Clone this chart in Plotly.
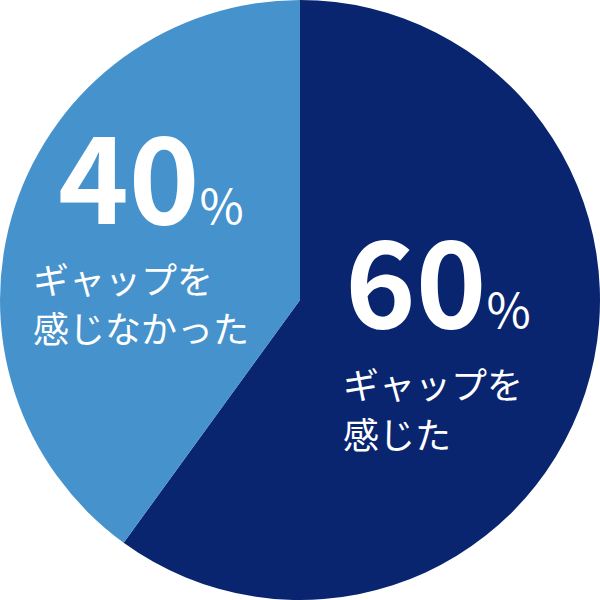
import plotly.graph_objects as go

labels = ["ギャップを感じた", "ギャップを感じなかった"]
values = [60, 40]
colors = ["#0a256f", "#4592cc"]
pct_text = ["60", "40"]
line1 = ["ギャップを", "ギャップを"]
line2 = ["感じた", "感じなかった"]

W = H = 600
fig = go.Figure(go.Pie(
    labels=labels, values=values, sort=False, direction="clockwise", rotation=0,
    marker=dict(colors=colors, line=dict(width=0)),
    textinfo="none", hoverinfo="label+percent", showlegend=False,
    domain=dict(x=[0, 1], y=[0, 1]),
))

FONT = "Noto Sans CJK JP"
# positions in pixels (left x, center y) for each slice's texts
num_pos = [(343, 276), (56, 172)]
l1_pos = [(341, 383), (31, 278)]
l2_pos = [(341, 433), (31, 327)]

anns = []
for i in range(len(values)):
    nx, ny = num_pos[i]
    anns.append(dict(
        x=nx / W, y=1 - ny / H, xref="paper", yref="paper", xanchor="left", yanchor="middle",
        text=f"<b>{pct_text[i]}</b><span style='font-size:48px'>%</span>", showarrow=False,
        font=dict(family=FONT, size=120, color="white"),
    ))
    for (px, py), t in ((l1_pos[i], line1[i]), (l2_pos[i], line2[i])):
        anns.append(dict(
            x=px / W, y=1 - py / H, xref="paper", yref="paper", xanchor="left", yanchor="middle",
            text=t, showarrow=False, font=dict(family=FONT, size=36, color="white", weight=400),
        ))

fig.update_layout(
    width=W, height=H, margin=dict(l=0, r=0, t=0, b=0),
    paper_bgcolor="white", plot_bgcolor="white", annotations=anns,
)
fig.write_html(
    "out.html",
    config={"displayModeBar": False},
    post_script="document.body.style.margin='0';document.body.style.overflow='hidden';",
)
